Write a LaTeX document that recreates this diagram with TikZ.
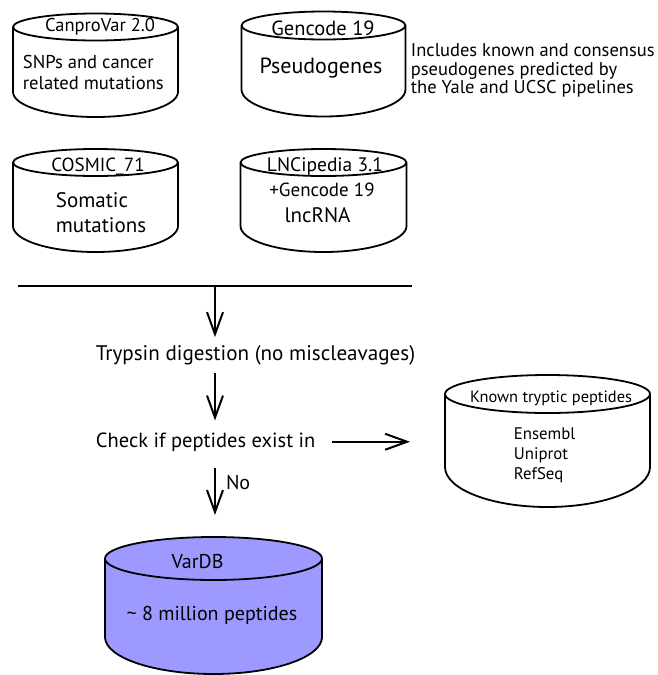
\documentclass[tikz,border=0pt]{standalone}
\usepackage{fontspec}
\setmainfont{PT Sans}
\usetikzlibrary{arrows.meta}

\definecolor{vardbfill}{RGB}{158,153,255}

\newcommand{\drum}[8][white]{%
	\coordinate (#2) at (#3,#4);
	\coordinate (#2-n) at (#3,#4+#6);
	\coordinate (#2-w) at (#3-#5,#4);
	\filldraw[fill=#1] (#3-#5,#4) -- (#3-#5,#4-#7) arc[start angle=180,end angle=360,x radius=#5,y radius=#8] -- (#3+#5,#4) arc[start angle=0,end angle=180,x radius=#5,y radius=#6] -- cycle;
	\draw (#3-#5,#4) arc[start angle=180,end angle=360,x radius=#5,y radius=#6];
}

\begin{document}
\begin{tikzpicture}[x=1pt, y=1pt, line width=1.8pt,
	every node/.style={inner sep=0pt},
	toplbl/.style={font=\fontsize{19}{20}\selectfont},
	lbl/.style={font=\fontsize{20}{22}\selectfont},
	biglbl/.style={font=\fontsize{22}{24}\selectfont},
	steplbl/.style={font=\fontsize{20.5}{22}\selectfont, anchor=base west, inner ysep=7pt},
	flow/.style={line width=2pt, -{Straight Barb[length=22pt,width=16pt]}}]
	\useasboundingbox (0,0) rectangle (657,-675);

	\drum{canpro}{95.5}{-27}{82.5}{13.5}{65}{25}
	\drum{gencode}{323.5}{-25.5}{82}{14}{64}{27}
	\drum{cosmic}{95.5}{-162.5}{82.5}{13.5}{63.5}{26}
	\drum{lncipedia}{323.5}{-162.5}{83}{13.5}{63.5}{26}
	\drum{known}{547.5}{-394}{102.5}{19}{73}{40}
	\drum[vardbfill]{vardb}{213.5}{-558.5}{108.5}{21.5}{78.5}{37}

	\node[font=\fontsize{18.5}{19}\selectfont] (canprotitle) at (100,-27) {CanproVar 2.0};
	\node[font=\fontsize{18.6}{21}\selectfont, anchor=west, align=left] (snps) at (22,-72.5) {SNPs and cancer\\related mutations};
	\node[font=\fontsize{20.5}{21}\selectfont] (gencodetitle) at (323,-28) {Gencode 19};
	\node[biglbl] (pseudo) at (321,-68) {Pseudogenes};
	\node[font=\fontsize{18.5}{18.5}\selectfont, anchor=west, align=left] (pseudonote) at (410,-70.5) {Includes known and consensus\\pseudogenes predicted by\\the Yale and UCSC pipelines};
	\node[toplbl] (cosmictitle) at (98,-167) {COSMIC\_71};
	\node[font=\fontsize{21}{25}\selectfont, anchor=west, align=left] (somatic) at (55,-212.5) {Somatic\\mutations};
	\node[font=\fontsize{19.5}{20}\selectfont] (lncititle) at (325,-167) {LNCipedia 3.1};
	\node[toplbl] (gencodeplus) at (322,-190) {+Gencode 19};
	\node[font=\fontsize{21}{24}\selectfont] (lncrna) at (317.5,-215) {lncRNA};
	\node[font=\fontsize{16.4}{17}\selectfont] (knowntitle) at (551,-398) {Known tryptic peptides};
	\node[font=\fontsize{16.8}{20}\selectfont, anchor=west, align=left] (sources) at (513,-455) {Ensembl\\Uniprot\\RefSeq};
	\node[lbl] (vardbtitle) at (197.5,-562) {VarDB};
	\node[lbl] (peptides) at (212,-615) {\textasciitilde{} 8 million peptides};

	\coordinate (barL) at (18,-286);
	\coordinate (barR) at (412,-286);
	\coordinate (bar) at (215,-286);
	\draw[line width=2pt] (barL) -- (barR);

	\node[steplbl, font=\fontsize{21.1}{22}\selectfont] (trypsin) at (95,-360) {Trypsin digestion (no miscleavages)};
	\node[steplbl] (check) at (95,-447) {Check if peptides exist in};

	\draw[flow] (bar) -- (bar |- trypsin.north);
	\draw[flow, shorten >=4pt] (bar |- trypsin.south) -- (bar |- check.north);
	\draw[flow, shorten <=16pt, shorten >=35pt] (check.east) -- (check.east -| known-w);
	\draw[flow, shorten <=9pt, shorten >=22pt] (bar |- check.south) -- (bar |- vardb-n)
		node[lbl, pos=0.3, right=10pt] (no) {No};
\end{tikzpicture}
\end{document}
